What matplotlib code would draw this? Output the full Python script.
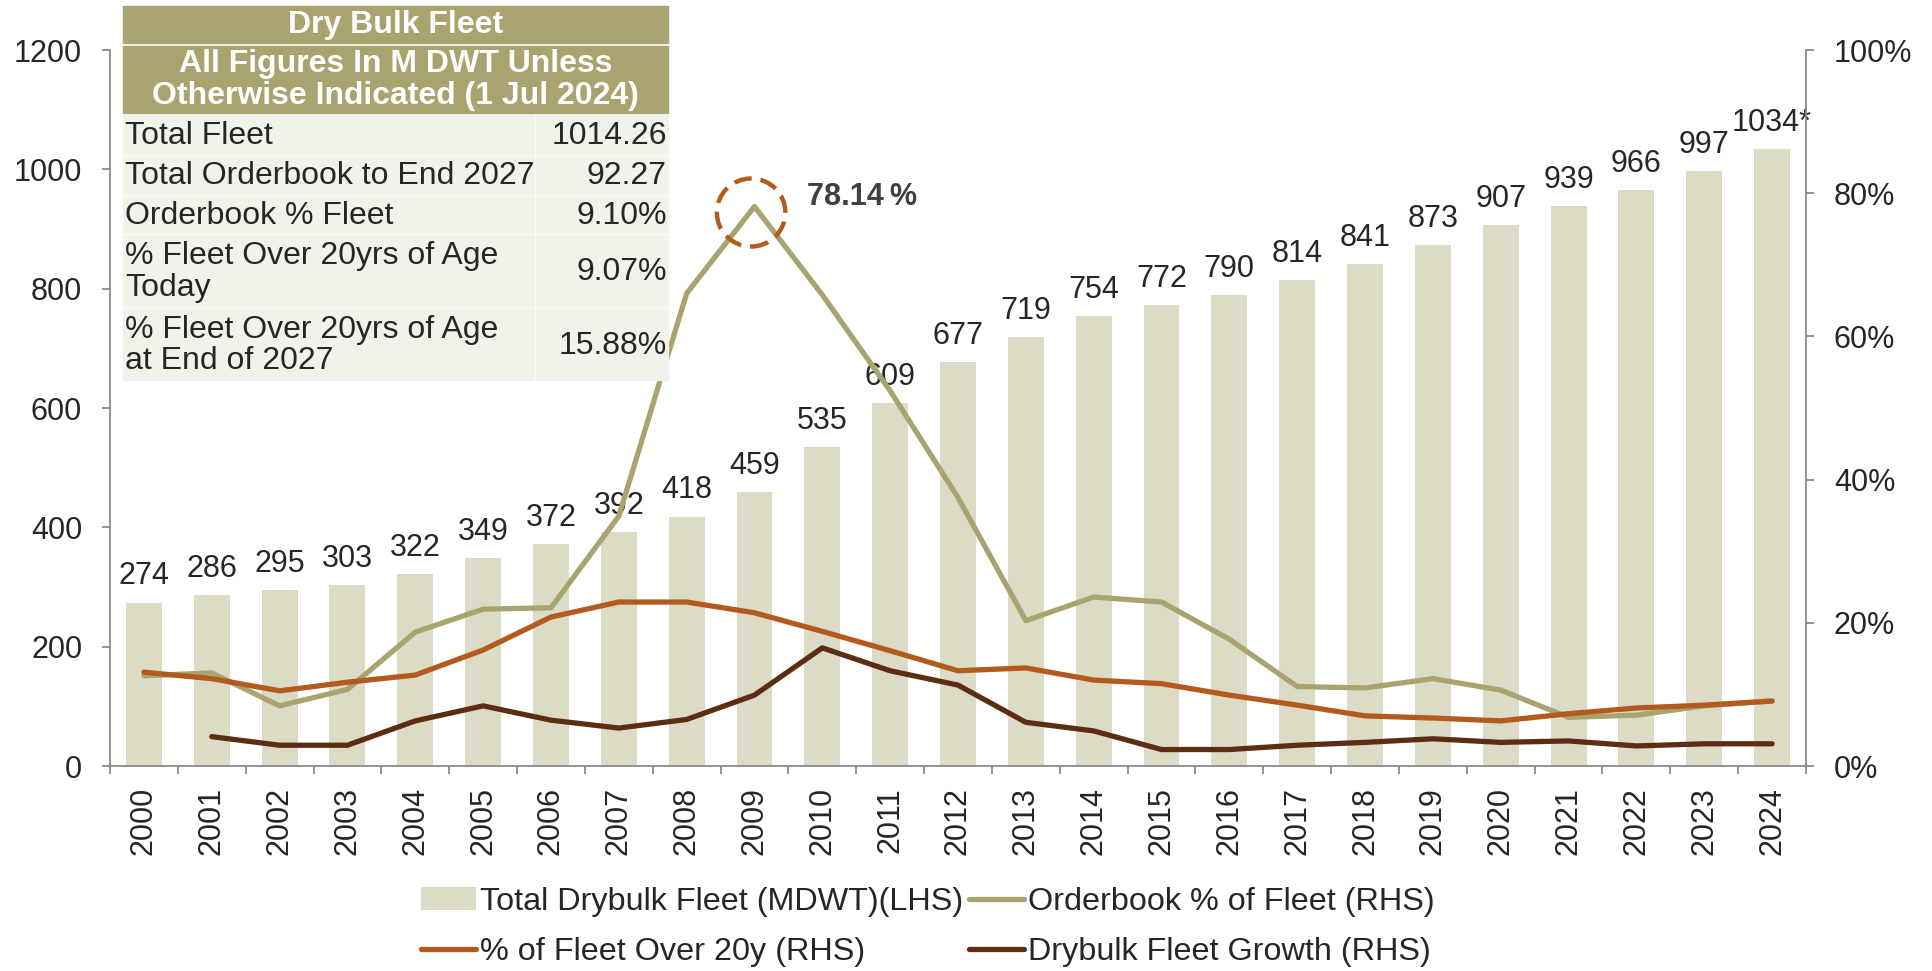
import matplotlib.pyplot as plt
import numpy as np
from matplotlib.patches import Ellipse, Rectangle, Patch
from matplotlib.lines import Line2D

plt.rcParams['font.family'] = ['Liberation Sans', 'DejaVu Sans']
plt.rcParams['font.size'] = 22

years = [str(y) for y in range(2000, 2025)]
fleet = [274, 286, 295, 303, 322, 349, 372, 392, 418, 459, 535, 609, 677,
         719, 754, 772, 790, 814, 841, 873, 907, 939, 966, 997, 1034]
fleet_labels = [str(v) for v in fleet[:-1]] + ['1034*']
orderbook_pct = [12.6, 13.0, 8.4, 10.7, 18.7, 21.9, 22.1, 34.9, 66.0, 78.14,
                 65.8, 52.4, 37.5, 20.3, 23.6, 22.9, 17.7, 11.1, 10.9, 12.2,
                 10.6, 6.8, 7.1, 8.4, 9.1]
over20_pct = [13.1, 12.2, 10.5, 11.7, 12.7, 16.2, 20.8, 22.9, 22.9, 21.4,
              18.8, 16.1, 13.3, 13.7, 12.0, 11.5, 9.9, 8.5, 7.0, 6.7,
              6.3, 7.3, 8.1, 8.5, 9.07]
growth_pct = [np.nan, 4.1, 2.9, 2.9, 6.3, 8.4, 6.4, 5.3, 6.5, 9.9,
              16.5, 13.3, 11.3, 6.1, 4.9, 2.3, 2.3, 2.9, 3.3, 3.8,
              3.3, 3.5, 2.8, 3.1, 3.1]

table_title = 'Dry Bulk Fleet'
table_subtitle = 'All Figures In M DWT Unless\nOtherwise Indicated (1 Jul 2024)'
table_rows = ['Total Fleet', 'Total Orderbook to End 2027', 'Orderbook % Fleet',
              '% Fleet Over 20yrs of Age\nToday', '% Fleet Over 20yrs of Age\nat End of 2027']
table_values = ['1014.26', '92.27', '9.10%', '9.07%', '15.88%']

BAR = '#DCDBC6'
OLIVE = '#A9A46F'
ORANGE = '#B35A1F'
BROWN = '#5C2D12'
HEAD = '#A8A36F'
CELL = '#F2F2EB'
TXT = '#262626'
SPINE = '#898989'

W, H = 1933, 971
fig = plt.figure(figsize=(W / 100, H / 100), dpi=100)
ax = fig.add_axes([110 / W, 1 - 766 / H, (1806 - 110) / W, (766 - 50) / H])
x = np.arange(len(years))

bars = ax.bar(x, fleet, width=0.53, color=BAR, zorder=1)
ax.bar_label(bars, labels=fleet_labels, padding=8, fontsize=22, color=TXT)
ax.set_ylim(0, 1200)
ax.set_xlim(-0.5, len(years) - 0.5)
ax.set_yticks(range(0, 1201, 200))
ax.set_xticks(x)
ax.set_xticklabels(years, rotation=90)
ax.set_xticks(np.arange(-0.5, len(years), 1), minor=True)

ax2 = ax.twinx()
ax2.set_ylim(0, 100)
ax2.set_yticks(range(0, 101, 20))
ax2.set_yticklabels([f'{v}%' for v in range(0, 101, 20)])
ax2.plot(x, orderbook_pct, color=OLIVE, lw=3.8, solid_capstyle='round', zorder=2)
ax2.plot(x, over20_pct, color=ORANGE, lw=3.8, solid_capstyle='round', zorder=3)
ax2.plot(x, growth_pct, color=BROWN, lw=3.8, solid_capstyle='round', zorder=4)

ax2.add_patch(Ellipse((8.95, 77.3), width=1.01, height=9.5, fill=False,
                      edgecolor=ORANGE, lw=3.2, linestyle=(0, (4, 2)), zorder=5))
ax2.text(9.78, 79.5, '78.14\u2009%', fontsize=22, fontweight='bold',
         color='#404040', va='center', ha='left')

for a in (ax, ax2):
    a.spines['top'].set_visible(False)
    for s in a.spines.values():
        s.set_color(SPINE)
        s.set_linewidth(1.3)
ax.spines['right'].set_visible(False)
ax2.spines['left'].set_visible(False)
ax2.spines['bottom'].set_visible(False)

ax.tick_params(axis='y', length=6, width=1.3, color=SPINE, pad=14,
               labelsize=22, labelcolor=TXT)
ax2.tick_params(axis='y', length=6, width=1.3, color=SPINE, pad=14,
                labelsize=22, labelcolor=TXT)
ax.tick_params(axis='x', which='major', length=0, pad=15, labelsize=22,
               labelcolor=TXT)
ax.tick_params(axis='x', which='minor', length=6, width=1.3, color=SPINE)

# summary table (pixel layout, top-left origin)
def rect(x0, y0, x1, y1, color):
    fig.patches.append(Rectangle((x0 / W, 1 - y1 / H), (x1 - x0) / W, (y1 - y0) / H,
                                 transform=fig.transFigure, color=color, zorder=5))

def label(xp, yp, s, **kw):
    fig.text(xp / W, 1 - yp / H, s, zorder=6, fontsize=23, linespacing=1.05, **kw)

tx0, tx1, tsplit = 123, 668, 534
rect(tx0, 6, tx1, 43, HEAD)
label((tx0 + tx1) / 2, 24.5, table_title, ha='center', va='center',
      color='white', fontweight='bold')
rect(tx0, 46, tx1, 113, HEAD)
label((tx0 + tx1) / 2, 80, table_subtitle, ha='center', va='center',
      color='white', fontweight='bold')
row_spans = [(115, 154), (156, 194), (196, 233), (235, 307), (309, 380)]
for (y0, y1), name, val in zip(row_spans, table_rows, table_values):
    rect(tx0, y0, tsplit, y1, CELL)
    rect(tsplit + 2, y0, tx1, y1, CELL)
    yc = (y0 + y1) / 2 + 1
    label(tx0 + 2, yc, name, ha='left', va='center', color=TXT)
    label(tx1 - 1, yc, val, ha='right', va='center', color=TXT)

handles = [Patch(facecolor=BAR, edgecolor='none'),
           Line2D([], [], color=ORANGE, lw=3.8, solid_capstyle='round'),
           Line2D([], [], color=OLIVE, lw=3.8, solid_capstyle='round'),
           Line2D([], [], color=BROWN, lw=3.8, solid_capstyle='round')]
labels = ['Total Drybulk Fleet (MDWT)(LHS)', '% of Fleet Over 20y (RHS)',
          'Orderbook % of Fleet (RHS)', 'Drybulk Fleet Growth (RHS)']
leg = fig.legend(handles, labels, loc='center', bbox_to_anchor=(0.48, 0.0453),
                 ncol=2, frameon=False, fontsize=23.3, handlelength=1.7,
                 handletextpad=0.12, columnspacing=0.2, labelspacing=0.62)
for t in leg.get_texts():
    t.set_color(TXT)

fig.savefig('out.png', dpi=100)
